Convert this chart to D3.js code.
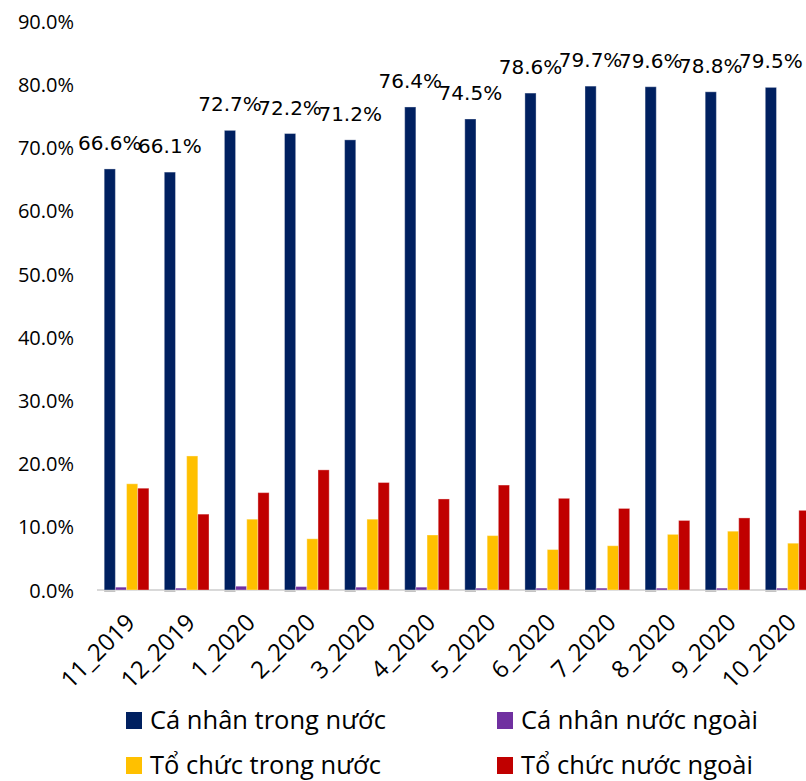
<!DOCTYPE html>
<html>
<head>
<meta charset="utf-8">
<script src="https://cdn.jsdelivr.net/npm/d3@7"></script>
<style>
  body { margin: 0; background: #fff; }
  svg { display: block; }
  .axis text { font-family: 'Open Sans', sans-serif; fill: #000; }
  .legend text { font-family: 'Open Sans', sans-serif; fill: #000; }
  .bar-label { font-family: 'DejaVu Sans', sans-serif; fill: #000; }
</style>
</head>
<body>
<div id="chart"></div>
<script>
let categories = ['11_2019', '12_2019', '1_2020', '2_2020', '3_2020', '4_2020', '5_2020', '6_2020', '7_2020', '8_2020', '9_2020', '10_2020']

let caNhanTrongNuoc = [66.6, 66.1, 72.7, 72.2, 71.2, 76.4, 74.5, 78.6, 79.7, 79.6, 78.8, 79.5]
let caNhanNuocNgoai = [0.45, 0.3, 0.6, 0.55, 0.45, 0.45, 0.3, 0.3, 0.3, 0.3, 0.3, 0.3]
let toChucTrongNuoc = [16.8, 21.2, 11.2, 8.1, 11.2, 8.7, 8.6, 6.4, 7.0, 8.8, 9.3, 7.4]
let toChucNuocNgoai = [16.1, 12.0, 15.4, 19.0, 17.0, 14.4, 16.6, 14.5, 12.9, 11.0, 11.4, 12.6]

let seriesNames = ['Cá nhân trong nước', 'Cá nhân nước ngoài', 'Tổ chức trong nước', 'Tổ chức nước ngoài']
let seriesColors = ['#002060', '#7030A0', '#FFC000', '#C00000']
let yTicks = [0, 10, 20, 30, 40, 50, 60, 70, 80, 90]

let width = 806
let height = 781

let svg = d3
  .select('#chart')
  .append('svg')
  .attr('width', width)
  .attr('height', height)

let seriesValues = [caNhanTrongNuoc, caNhanNuocNgoai, toChucTrongNuoc, toChucNuocNgoai]
let rows = categories.map((c, i) => ({
  cat: c,
  values: seriesValues.map((s, j) => ({ key: j, value: s[i] }))
}))

// chart runs past the right edge, like the original
let x = d3
  .scaleBand()
  .domain(categories)
  .range([96.5, 96.5 + 60.1 * 12])
  .paddingInner(0.256)
  .paddingOuter(0.128)

let xInner = d3
  .scaleBand()
  .domain(d3.range(4))
  .range([0, x.bandwidth()])

let y = d3
  .scaleLinear()
  .domain([0, 90])
  .range([590, 21])

// y axis labels only
let yAxis = svg
  .append('g')
  .attr('class', 'axis')
  .attr('transform', 'translate(74,0)')
  .call(
    d3.axisLeft(y)
      .tickValues(yTicks)
      .tickSize(0)
      .tickPadding(0)
      .tickFormat(d => d3.format('.1f')(d) + '%')
  )
yAxis.select('.domain').remove()
yAxis.selectAll('text').attr('font-size', 20).attr('dy', '0.36em')

// baseline
svg
  .append('rect')
  .attr('x', 97)
  .attr('y', 589)
  .attr('width', width - 97)
  .attr('height', 2)
  .attr('fill', '#d9d9d9')

let groups = svg
  .append('g')
  .selectAll('.group')
  .data(rows)
  .enter()
  .append('g')
  .attr('class', 'group')
  .attr('transform', d => 'translate(' + x(d.cat) + ',0)')

// small grey shadow under the dark bars
groups
  .append('rect')
  .attr('x', xInner(0))
  .attr('y', 590)
  .attr('width', xInner.bandwidth())
  .attr('height', 2)
  .attr('fill', '#c4c4c4')

groups
  .selectAll('.bar')
  .data(d => d.values)
  .enter()
  .append('rect')
  .attr('class', 'bar')
  .attr('x', d => xInner(d.key))
  .attr('y', d => y(d.value))
  .attr('width', xInner.bandwidth())
  .attr('height', d => y(0) - y(d.value))
  .attr('fill', d => seriesColors[d.key])
  .attr('stroke', '#fff')
  .attr('stroke-opacity', 0.35)
  .attr('stroke-width', 1)

// data labels on the first series
groups
  .append('text')
  .attr('class', 'bar-label')
  .attr('x', xInner(0) + xInner.bandwidth() / 2)
  .attr('y', d => y(d.values[0].value) - 19)
  .attr('text-anchor', 'middle')
  .attr('font-size', 20)
  .text(d => d3.format('.1f')(d.values[0].value) + '%')

// x axis labels, rotated
let xAxis = svg
  .append('g')
  .attr('class', 'axis')
  .attr('transform', 'translate(0,590)')
  .call(d3.axisBottom(x).tickSize(0).tickPadding(0))
xAxis.select('.domain').remove()
xAxis
  .selectAll('text')
  .attr('font-size', 24)
  .attr('text-anchor', 'end')
  .attr('dy', null)
  .attr('y', null)
  .attr('transform', 'translate(10,34) rotate(-45)')

// legend
let legendPos = [[126, 729], [497, 729], [126, 774], [497, 774]]

let legend = svg
  .append('g')
  .attr('class', 'legend')
  .selectAll('g')
  .data(seriesNames)
  .enter()
  .append('g')
  .attr('transform', (d, i) => 'translate(' + legendPos[i][0] + ',' + legendPos[i][1] + ')')

legend
  .append('rect')
  .attr('x', 0)
  .attr('y', -17)
  .attr('width', 16)
  .attr('height', 17)
  .attr('fill', (d, i) => seriesColors[i])

legend
  .append('text')
  .attr('x', 24)
  .attr('y', 0)
  .attr('font-size', 25.5)
  .text(d => d)
</script>
</body>
</html>
